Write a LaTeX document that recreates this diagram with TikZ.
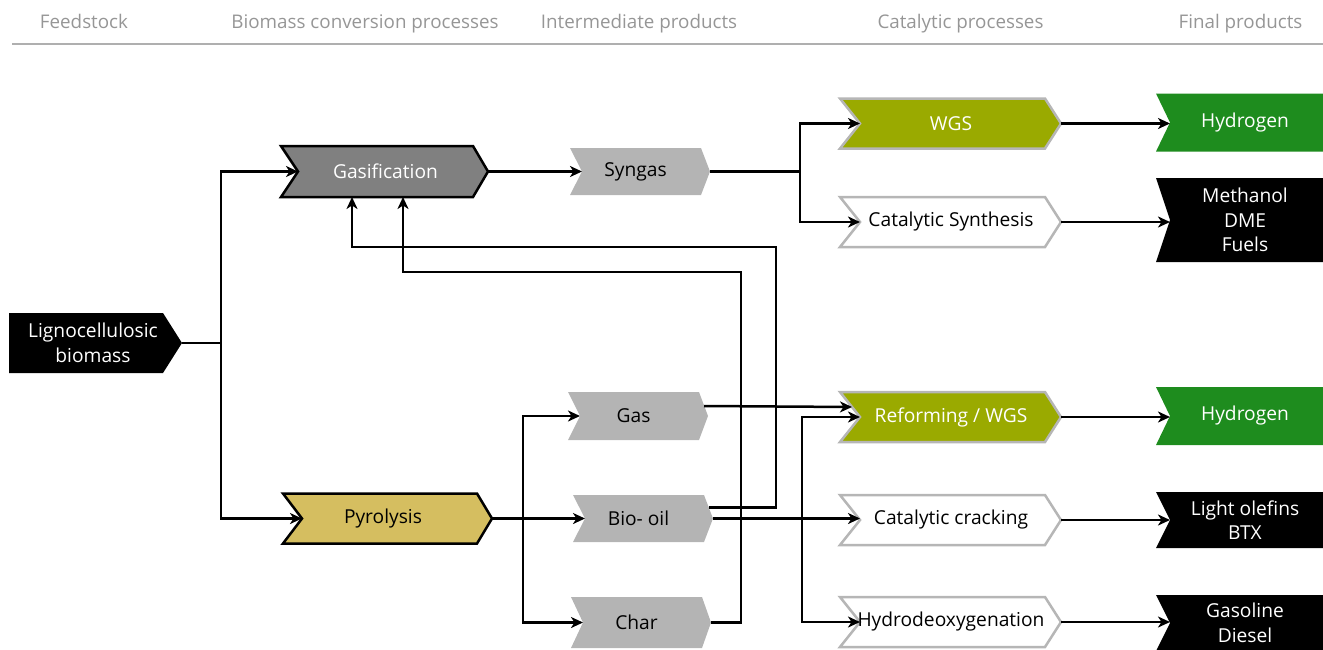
\documentclass[tikz,border=0pt]{standalone}
\usepackage{fontspec}
\setmainfont{Open Sans}
\usetikzlibrary{arrows.meta}
\definecolor{gasgray}{RGB}{128,128,128}
\definecolor{pyrogold}{RGB}{213,190,96}
\definecolor{midgray}{RGB}{180,180,180}
\definecolor{wgsolive}{RGB}{154,170,0}
\definecolor{catborder}{RGB}{182,182,182}
\definecolor{prodgreen}{RGB}{30,140,30}
\definecolor{hdrgray}{RGB}{150,150,150}
\definecolor{hlinegray}{RGB}{175,175,175}
\makeatletter
\pgfkeys{/pgf/chevron tip/.initial=0pt,
         /pgf/chevron ext/.initial=0pt,
         /pgf/chevron notch/.initial=0pt}
\pgfdeclareshape{chevron}{%
  \inheritsavedanchors[from=rectangle]%
  \inheritanchorborder[from=rectangle]%
  \inheritanchor[from=rectangle]{center}%
  \inheritanchor[from=rectangle]{north}%
  \inheritanchor[from=rectangle]{south}%
  \inheritanchor[from=rectangle]{west}%
  \inheritanchor[from=rectangle]{east}%
  \inheritanchor[from=rectangle]{north west}%
  \inheritanchor[from=rectangle]{north east}%
  \inheritanchor[from=rectangle]{south west}%
  \inheritanchor[from=rectangle]{south east}%
  \saveddimen{\chevtip}{\pgfmathsetlength\pgf@x{\pgfkeysvalueof{/pgf/chevron tip}}}%
  \saveddimen{\chevext}{\pgfmathsetlength\pgf@x{\pgfkeysvalueof{/pgf/chevron ext}}}%
  \saveddimen{\chevnotch}{\pgfmathsetlength\pgf@x{\pgfkeysvalueof{/pgf/chevron notch}}}%
  \anchor{tip}{%
    \southwest \pgf@ya=\pgf@y
    \northeast \pgf@y=.5\pgf@y \advance\pgf@y by .5\pgf@ya
    \advance\pgf@x by \chevtip}%
  \anchor{notch}{%
    \northeast \pgf@yb=\pgf@y
    \southwest \pgf@y=.5\pgf@y \advance\pgf@y by .5\pgf@yb
    \advance\pgf@x by -\chevext \advance\pgf@x by \chevnotch}%
  \backgroundpath{%
    \southwest \edef\chv@xa{\the\pgf@x}\edef\chv@ya{\the\pgf@y}%
    \northeast \edef\chv@xb{\the\pgf@x}\edef\chv@yb{\the\pgf@y}%
    \pgf@xc=\chv@xa \advance\pgf@xc by -\chevext \edef\chv@xl{\the\pgf@xc}%
    \advance\pgf@xc by \chevnotch \edef\chv@xn{\the\pgf@xc}%
    \pgf@xc=\chv@xb \advance\pgf@xc by \chevtip \edef\chv@xt{\the\pgf@xc}%
    \pgf@yc=\chv@ya \advance\pgf@yc by \chv@yb \pgf@yc=.5\pgf@yc \edef\chv@yc{\the\pgf@yc}%
    \pgfpathmoveto{\pgfqpoint{\chv@xl}{\chv@yb}}%
    \pgfpathlineto{\pgfqpoint{\chv@xb}{\chv@yb}}%
    \pgfpathlineto{\pgfqpoint{\chv@xt}{\chv@yc}}%
    \pgfpathlineto{\pgfqpoint{\chv@xb}{\chv@ya}}%
    \pgfpathlineto{\pgfqpoint{\chv@xl}{\chv@ya}}%
    \pgfpathlineto{\pgfqpoint{\chv@xn}{\chv@yc}}%
    \pgfpathclose}%
}
\makeatother
\begin{document}
\begin{tikzpicture}[x=1pt,y=-1pt,
  chev/.style={shape=chevron, inner sep=0pt, outer sep=0pt, align=center,
    font=\fontsize{19.2}{24.5}\selectfont},
  hdr/.style={font=\fontsize{18.8}{22}\selectfont, text=hdrgray, anchor=base, inner sep=0pt},
  proc/.style={chev, draw=black, line width=2.5pt, minimum height=51pt},
  gasifstyle/.style={proc, fill=gasgray, text=white, minimum width=175pt,
    chevron ext=17pt, chevron notch=17pt, chevron tip=15pt},
  pyrostyle/.style={proc, fill=pyrogold, text=black, minimum width=188pt, minimum height=50pt,
    chevron ext=6pt, chevron notch=19pt, chevron tip=15pt},
  inter/.style={chev, fill=midgray, text=black, minimum width=131pt, minimum height=48pt,
    chevron ext=0pt, chevron notch=12pt, chevron tip=9pt},
  catal/.style={chev, draw=catborder, line width=2.5pt, fill=white, text=black,
    minimum width=188pt, minimum height=50pt,
    chevron ext=17pt, chevron notch=20pt, chevron tip=16pt},
  final/.style={chev, text=white, minimum width=156pt,
    chevron ext=11pt, chevron notch=14pt, chevron tip=0pt},
  conn/.style={line width=2.5pt},
  arr/.style={line width=2.5pt, -{Stealth[length=12pt,width=11pt,inset=3.5pt]}}
]
\useasboundingbox (0,0) rectangle (1323,649);
\clip (0,0) rectangle (1323,649);

% header
\node[hdr] (hd1) at (84,28) {Feedstock};
\node[hdr] (hd2) at (365,28) {Biomass conversion processes};
\node[hdr] (hd3) at (639,28) {Intermediate products};
\node[hdr] (hd4) at (960.5,28) {Catalytic processes};
\node[hdr] (hd5) at (1240.5,28) {Final products};
\draw[hlinegray, line width=1.8pt] (12,44) -- (1323,44);

% feedstock
\node[chev, fill=black, text=white, minimum width=140pt, minimum height=60pt,
  chevron ext=14pt, chevron notch=0pt, chevron tip=19pt] (lig) at (93,343) {Lignocellulosic\\biomass};

% conversion
\node[gasifstyle] (gasif) at (385.5,171.5) {Gasification};
\node[pyrostyle] (pyro) at (383,518.5) {Pyrolysis};

% intermediates
\node[inter, minimum height=47pt] (syn) at (635.5,171.5) {Syngas};
\node[inter] (gasi) at (633.5,416) {Gas};
\node[inter, minimum height=47pt] (bio) at (638.5,518.5) {Bio- oil};
\node[inter, minimum height=51pt] (char) at (636.5,622.5) {Char};

% catalytic
\node[catal, fill=wgsolive, text=white] (wgs) at (951,123.5) {WGS};
\node[catal] (cs) at (951,222) {Catalytic Synthesis};
\node[catal, fill=wgsolive, text=white] (ref) at (951,417) {Reforming / WGS};
\node[catal] (cc) at (951,520) {Catalytic cracking};
\node[catal] (hdo) at (951,622) {Hydrodeoxygenation};

% final products
\node[final, fill=prodgreen, minimum height=58pt] (h1) at (1245,122.5) {Hydrogen};
\node[final, fill=black, minimum height=84pt] (meth) at (1245,220) {Methanol\\DME\\Fuels};
\node[final, fill=prodgreen, minimum height=58pt] (h2) at (1245,416) {Hydrogen};
\node[final, fill=black, minimum height=56pt] (lo) at (1245,520) {Light olefins\\BTX};
\node[final, fill=black, minimum height=56pt] (gd) at (1245,623) {Gasoline\\Diesel};

% junctions and routing points
\coordinate (j1) at (221,343);
\coordinate (j2) at (800,171.5);
\coordinate (j3) at (523,518.5);
\coordinate (j4) at (802,518.5);
\coordinate (r1) at (776,247);
\coordinate (r2) at (741,272);

% connectors
\draw[conn] (lig.tip) -- (j1);
\draw[arr] (j1) |- (gasif.notch);
\draw[arr] (j1) |- (pyro.notch);
\draw[arr] (gasif.tip) -- (syn.notch);
\draw[conn] (syn.tip) -- (j2);
\draw[arr] (j2) |- (wgs.notch);
\draw[arr] (j2) |- (cs.notch);
\draw[conn] (pyro.tip) -- (j3);
\draw[arr] (j3) -- (bio.notch);
\draw[arr] (j3) |- (gasi.notch);
\draw[arr] (j3) |- (char.notch);
\draw[arr] (bio.tip) -- (bio.tip -| cc.notch);
\draw[arr] (j4) |- (ref.notch);
\draw[arr] (j4) |- (hdo.notch);
\draw[arr] ([shift={(-4pt,10pt)}]gasi.tip) -- ([shift={(-8pt,10pt)}]ref.notch);
\draw[arr] ([shift={(-4pt,11pt)}]bio.tip) -| (r1) -| ([xshift=-33.5pt]gasif.south);
\draw[arr] (char.tip) -| (r2) -| ([xshift=17.5pt]gasif.south);
\draw[arr] (wgs.tip) -- (wgs.tip -| h1.notch);
\draw[arr] (cs.tip) -- (cs.tip -| meth.notch);
\draw[arr] (ref.tip) -- (ref.tip -| h2.notch);
\draw[arr] (cc.tip) -- (cc.tip -| lo.notch);
\draw[arr] (hdo.tip) -- (hdo.tip -| gd.notch);
\end{tikzpicture}
\end{document}
